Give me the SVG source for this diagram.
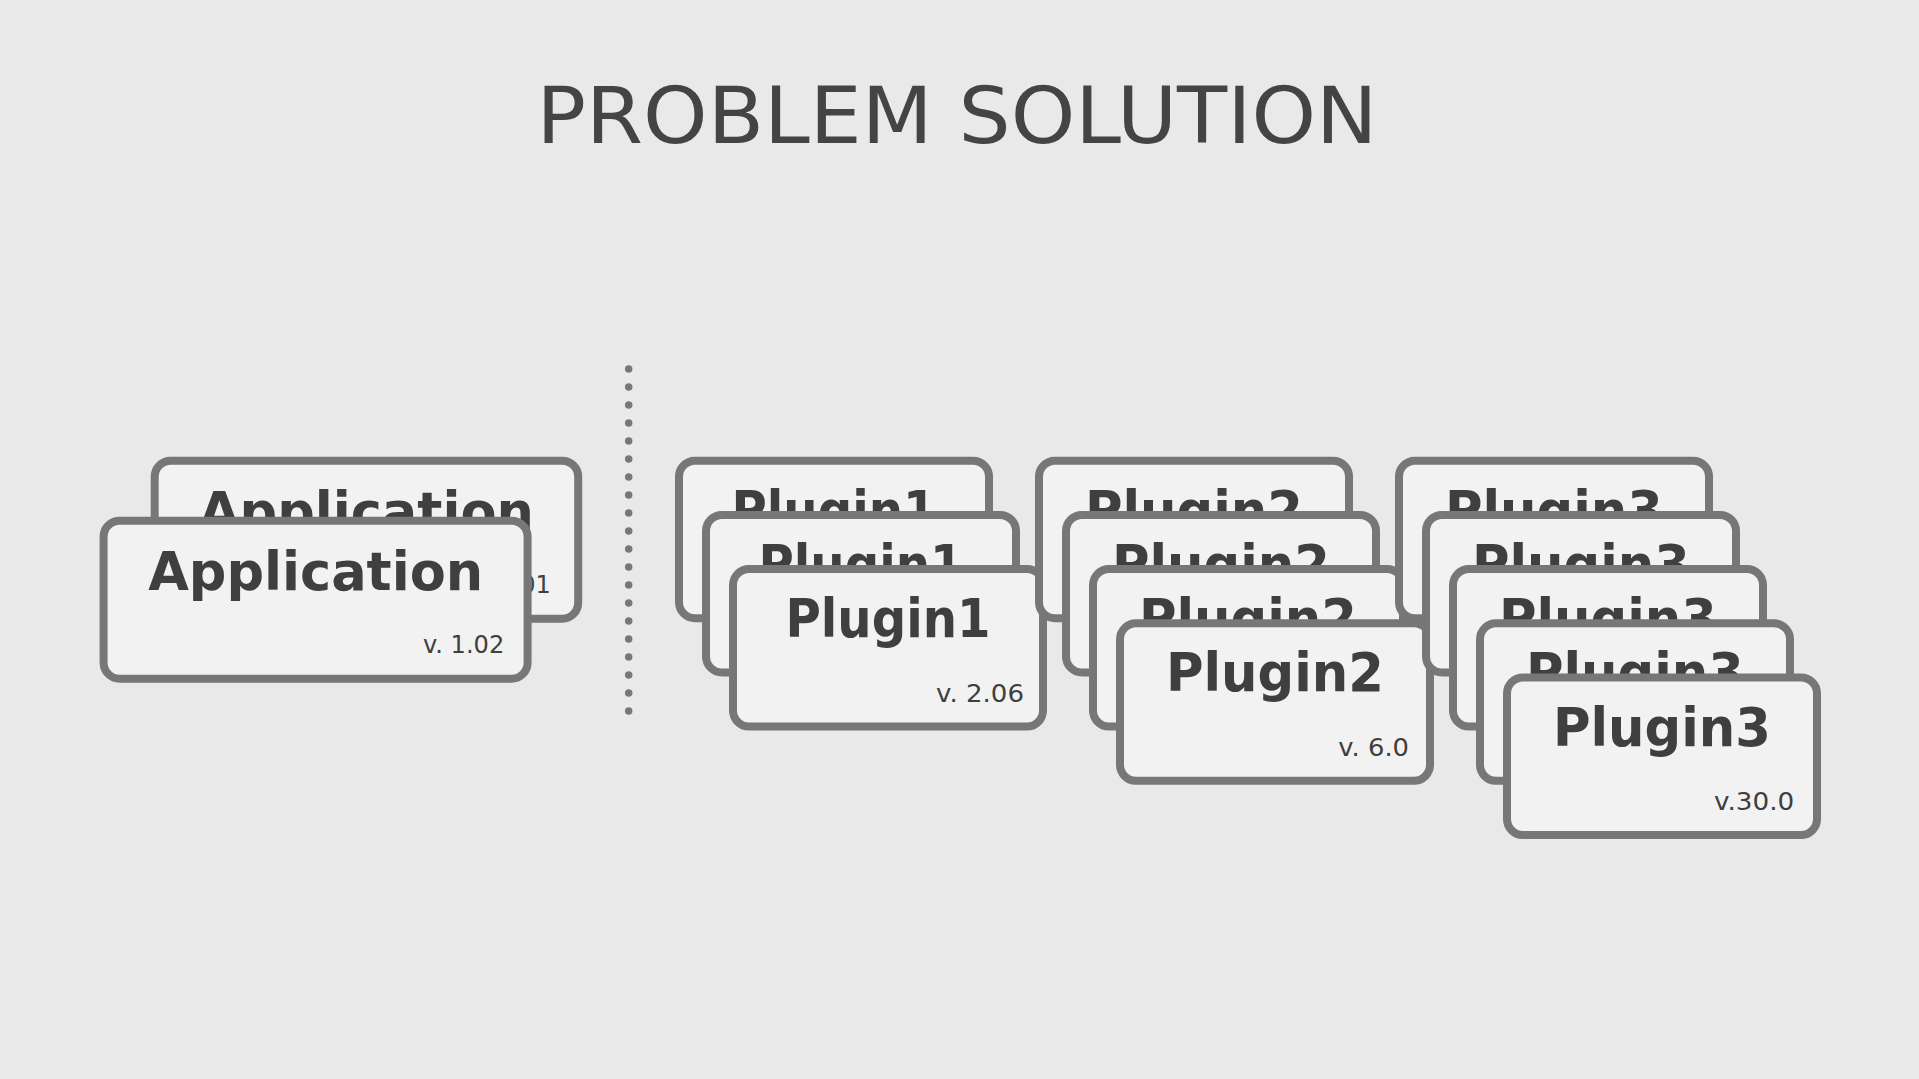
<svg xmlns="http://www.w3.org/2000/svg" width="1919" height="1079" viewBox="0 0 1919 1079">
<style>
.bg{fill:#e9e9e9}
.box{fill:#f2f2f2;stroke:#777777;stroke-width:8}
.name{font-family:"DejaVu Sans","Liberation Sans",sans-serif;font-weight:bold;font-size:53px;fill:#3f3f3f;text-anchor:middle}
.ver{font-family:"DejaVu Sans","Liberation Sans",sans-serif;font-size:24px;fill:#3f3f3f;text-anchor:end}
.title{font-family:"DejaVu Sans","Liberation Sans",sans-serif;font-size:78px;fill:#444444;text-anchor:middle}
.sep{stroke:#777777;stroke-width:7.5;stroke-linecap:round;stroke-dasharray:0 18;fill:none}
</style>
<rect class="bg" x="0" y="0" width="1919" height="1079"/>
<text class="title" x="957" y="143" textLength="841" lengthAdjust="spacingAndGlyphs">PROBLEM SOLUTION</text>

<g id="connectors">
<line class="sep" x1="628.7" y1="369" x2="628.7" y2="713"/>
</g>

<g id="app-old">
<rect class="box" x="154.7" y="460.7" width="423.5" height="158" rx="16"/>
<text class="name" x="366.4" y="530" textLength="335" lengthAdjust="spacingAndGlyphs">Application</text>
<text class="ver" x="550.7" y="593">v. 1.01</text>
</g>
<g id="app-new">
<rect class="box" x="103.6" y="520.7" width="424" height="158" rx="16"/>
<text class="name" x="315.7" y="590" textLength="335" lengthAdjust="spacingAndGlyphs">Application</text>
<text class="ver" x="504.3" y="652.7" textLength="81.4" lengthAdjust="spacingAndGlyphs">v. 1.02</text>
</g>

<g id="plugin1-a">
<rect class="box" x="679" y="460.7" width="310" height="157.5" rx="16"/>
<text class="name" x="834" y="528.7" textLength="205" lengthAdjust="spacingAndGlyphs">Plugin1</text>
</g>
<g id="plugin1-b">
<rect class="box" x="706" y="514.9" width="310" height="157.5" rx="16"/>
<text class="name" x="861" y="582.9" textLength="205" lengthAdjust="spacingAndGlyphs">Plugin1</text>
</g>
<g id="plugin1-c">
<rect class="box" x="733" y="569.1" width="310" height="157.5" rx="16"/>
<text class="name" x="888" y="637.1" textLength="205" lengthAdjust="spacingAndGlyphs">Plugin1</text>
<text class="ver" x="1024" y="701.7" textLength="88" lengthAdjust="spacingAndGlyphs">v. 2.06</text>
</g>

<g id="plugin2-a">
<rect class="box" x="1039" y="460.7" width="310" height="157.5" rx="16"/>
<text class="name" x="1194" y="528.7" textLength="218" lengthAdjust="spacingAndGlyphs">Plugin2</text>
</g>
<g id="plugin2-b">
<rect class="box" x="1066" y="514.9" width="310" height="157.5" rx="16"/>
<text class="name" x="1221" y="582.9" textLength="218" lengthAdjust="spacingAndGlyphs">Plugin2</text>
</g>
<g id="plugin2-c">
<rect class="box" x="1093" y="569.1" width="310" height="157.5" rx="16"/>
<text class="name" x="1248" y="637.1" textLength="218" lengthAdjust="spacingAndGlyphs">Plugin2</text>
</g>
<g id="plugin2-d">
<rect class="box" x="1120" y="623.3" width="310" height="157.5" rx="16"/>
<text class="name" x="1275" y="691.3" textLength="218" lengthAdjust="spacingAndGlyphs">Plugin2</text>
<text class="ver" x="1409" y="755.5" textLength="70.7" lengthAdjust="spacingAndGlyphs">v. 6.0</text>
</g>

<g id="plugin3-a">
<rect class="box" x="1399" y="460.7" width="310" height="157.5" rx="16"/>
<text class="name" x="1554" y="528.7" textLength="218" lengthAdjust="spacingAndGlyphs">Plugin3</text>
</g>
<g id="plugin3-b">
<rect class="box" x="1426" y="514.9" width="310" height="157.5" rx="16"/>
<text class="name" x="1581" y="582.9" textLength="218" lengthAdjust="spacingAndGlyphs">Plugin3</text>
</g>
<g id="plugin3-c">
<rect class="box" x="1453" y="569.1" width="310" height="157.5" rx="16"/>
<text class="name" x="1608" y="637.1" textLength="218" lengthAdjust="spacingAndGlyphs">Plugin3</text>
</g>
<g id="plugin3-d">
<rect class="box" x="1480" y="623.3" width="310" height="157.5" rx="16"/>
<text class="name" x="1635" y="691.3" textLength="218" lengthAdjust="spacingAndGlyphs">Plugin3</text>
</g>
<g id="plugin3-e">
<rect class="box" x="1507" y="677.5" width="310" height="157.5" rx="16"/>
<text class="name" x="1662" y="745.5" textLength="218" lengthAdjust="spacingAndGlyphs">Plugin3</text>
<text class="ver" x="1794.3" y="810" textLength="80.3" lengthAdjust="spacingAndGlyphs">v.30.0</text>
</g>
</svg>
